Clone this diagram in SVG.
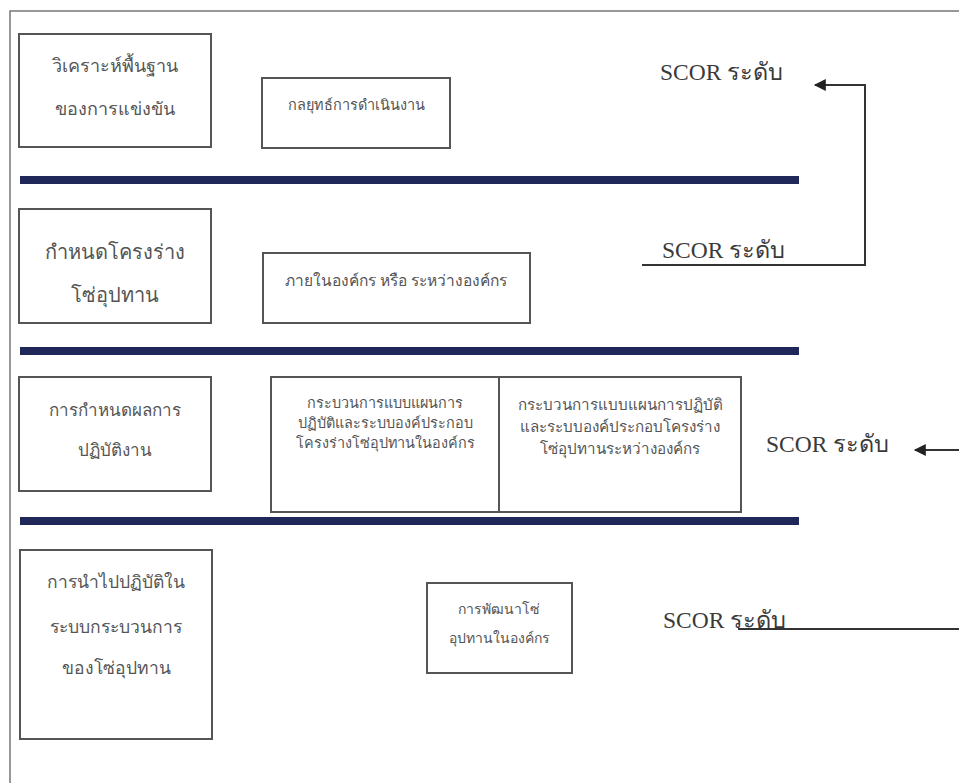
<svg xmlns="http://www.w3.org/2000/svg" width="959" height="783" viewBox="0 0 959 783">
<style>
.box{fill:#fff;stroke:#555;stroke-width:2}
.bar{fill:#1f2858}
.t{font-family:"Liberation Serif","Noto Sans",serif;fill:#555;text-anchor:middle}
.scor{font-family:"Liberation Serif","Noto Sans",serif;fill:#3a3a3a;font-size:23.5px}
.ln{fill:none;stroke:#333;stroke-width:2}
</style>
<defs>
<marker id="ah2" viewBox="0 0 10 10" refX="9" refY="5" markerWidth="14" markerHeight="12" markerUnits="userSpaceOnUse" orient="auto"><path d="M0,0 L10,5 L0,10 z" fill="#222"/></marker>
</defs>
<rect x="0" y="0" width="959" height="783" fill="#fff"/>
<path d="M10,783 V11 H959" fill="none" stroke="#777" stroke-width="1.5"/>
<g id="bars">
<rect class="bar" x="20" y="176" width="779" height="8"/>
<rect class="bar" x="20" y="347" width="779" height="8"/>
<rect class="bar" x="20" y="517" width="779" height="8"/>
</g>
<g id="n1"><rect class="box" x="19" y="34" width="192" height="113"/>
<text class="t" x="115" y="72" font-size="18">วิเคราะห์พื้นฐาน</text>
<text class="t" x="115" y="115" font-size="18">ของการแข่งขัน</text></g>
<g id="n2"><rect class="box" x="262" y="78" width="188" height="70"/>
<text class="t" x="356" y="110" font-size="14.5">กลยุทธ์การดำเนินงาน</text></g>
<g id="n3"><rect class="box" x="19" y="209" width="192" height="114"/>
<text class="t" x="115" y="259" font-size="20">กำหนดโครงร่าง</text>
<text class="t" x="115" y="302" font-size="20">โซ่อุปทาน</text></g>
<g id="n4"><rect class="box" x="263" y="253" width="267" height="70"/>
<text class="t" x="396" y="286" font-size="15.5">ภายในองค์กร หรือ ระหว่างองค์กร</text></g>
<g id="n5"><rect class="box" x="19" y="377" width="192" height="114"/>
<text class="t" x="115" y="416" font-size="17">การกำหนดผลการ</text>
<text class="t" x="115" y="456" font-size="17">ปฏิบัติงาน</text></g>
<g id="n6"><rect class="box" x="271" y="377" width="228" height="135"/>
<text class="t" x="385" y="408" font-size="14.4">กระบวนการแบบแผนการ</text>
<text class="t" x="385" y="428" font-size="14.4">ปฏิบัติและระบบองค์ประกอบ</text>
<text class="t" x="385" y="448" font-size="14.4">โครงร่างโซ่อุปทานในองค์กร</text></g>
<g id="n7"><rect class="box" x="499" y="377" width="242" height="135"/>
<text class="t" x="620" y="410" font-size="15.2">กระบวนการแบบแผนการปฏิบัติ</text>
<text class="t" x="620" y="432" font-size="15.2">และระบบองค์ประกอบโครงร่าง</text>
<text class="t" x="620" y="454" font-size="15.2">โซ่อุปทานระหว่างองค์กร</text></g>
<g id="n8"><rect class="box" x="20" y="550" width="192" height="189"/>
<text class="t" x="116" y="588" font-size="17.5">การนำไปปฏิบัติใน</text>
<text class="t" x="116" y="633" font-size="17.5">ระบบกระบวนการ</text>
<text class="t" x="116" y="674" font-size="17.5">ของโซ่อุปทาน</text></g>
<g id="n9"><rect class="box" x="427" y="583" width="145" height="90"/>
<text class="t" x="499" y="614" font-size="14">การพัฒนาโซ่</text>
<text class="t" x="499" y="643" font-size="14">อุปทานในองค์กร</text></g>
<g id="labels">
<text class="scor" x="660" y="80">SCOR ระดับ</text>
<text class="scor" x="662" y="258">SCOR ระดับ</text>
<text class="scor" x="766" y="452">SCOR ระดับ</text>
<text class="scor" x="663" y="628">SCOR ระดับ</text>
</g>
<g id="connectors">
<path class="ln" d="M642,265 H865 V85 H815" marker-end="url(#ah2)"/>
<path class="ln" d="M959,450 H915" marker-end="url(#ah2)"/>
<path class="ln" d="M738,629 H959"/>
</g>
</svg>
